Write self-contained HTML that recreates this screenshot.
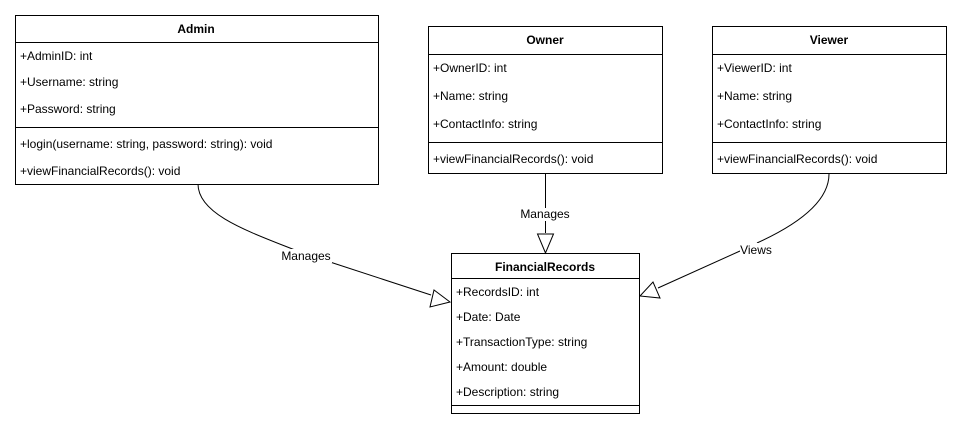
<!DOCTYPE html>
<html><head><meta charset="utf-8"><style>
html,body{margin:0;padding:0;background:#fff;}
svg{display:block;}
text{font-family:"Liberation Sans",Arial,sans-serif;font-size:12px;fill:#000;}
.b{font-weight:bold;}
</style></head><body>
<svg width="962" height="431" viewBox="0 0 962 431" xmlns="http://www.w3.org/2000/svg">
<g fill="none" stroke="#000" stroke-width="1">
<!-- Admin -->
<rect x="15.5" y="15.5" width="363" height="169"/>
<line x1="15" y1="42.5" x2="378" y2="42.5"/>
<line x1="15" y1="127.5" x2="378" y2="127.5"/>
<!-- Owner -->
<rect x="428.5" y="26.5" width="234" height="147"/>
<line x1="428" y1="54.5" x2="662" y2="54.5"/>
<line x1="428" y1="142.5" x2="662" y2="142.5"/>
<!-- Viewer -->
<rect x="712.5" y="26.5" width="234" height="147"/>
<line x1="712" y1="54.5" x2="946" y2="54.5"/>
<line x1="712" y1="142.5" x2="946" y2="142.5"/>
<!-- FinancialRecords -->
<rect x="451.5" y="253.5" width="188" height="160"/>
<line x1="451" y1="278.5" x2="639" y2="278.5"/>
<line x1="451" y1="405.5" x2="639" y2="405.5"/>
<!-- edges -->
<path d="M198,184 C198,215 250,232 300,252"/>
<path d="M330,262 L431,295"/>
<polygon points="450,302 434,290 430,307" fill="#fff"/>
<line x1="545.5" y1="173" x2="545.5" y2="208"/>
<line x1="545.5" y1="221" x2="545.5" y2="233"/>
<polygon points="545.5,253 537.5,234 553.5,234" fill="#fff"/>
<path d="M829,174 C829,205 790,228 757,243"/>
<path d="M740,251 L658,288"/>
<polygon points="640,296 653,282 660,298" fill="#fff"/>
</g>
<rect x="282" y="249" width="50" height="14" fill="#fff"/>
<text x="306" y="260" text-anchor="middle">Manages</text>
<rect x="520" y="208" width="50" height="13" fill="#fff"/>
<text x="545" y="218" text-anchor="middle">Manages</text>
<rect x="740" y="243" width="32" height="14" fill="#fff"/>
<text x="756" y="254" text-anchor="middle">Views</text>

<text x="196" y="33" text-anchor="middle" class="b">Admin</text>
<text x="20" y="60">+AdminID: int</text>
<text x="20" y="86">+Username: string</text>
<text x="20" y="113">+Password: string</text>
<text x="20" y="148">+login(username: string, password: string): void</text>
<text x="20" y="175">+viewFinancialRecords(): void</text>

<text x="545" y="44" text-anchor="middle" class="b">Owner</text>
<text x="433" y="72">+OwnerID: int</text>
<text x="433" y="100">+Name: string</text>
<text x="433" y="128">+ContactInfo: string</text>
<text x="433" y="163">+viewFinancialRecords(): void</text>

<text x="829" y="44" text-anchor="middle" class="b">Viewer</text>
<text x="717" y="72">+ViewerID: int</text>
<text x="717" y="100">+Name: string</text>
<text x="717" y="128">+ContactInfo: string</text>
<text x="717" y="163">+viewFinancialRecords(): void</text>

<text x="545" y="271" text-anchor="middle" class="b">FinancialRecords</text>
<text x="456" y="296">+RecordsID: int</text>
<text x="456" y="321">+Date: Date</text>
<text x="456" y="346">+TransactionType: string</text>
<text x="456" y="371">+Amount: double</text>
<text x="456" y="396">+Description: string</text>
</svg>
</body></html>
